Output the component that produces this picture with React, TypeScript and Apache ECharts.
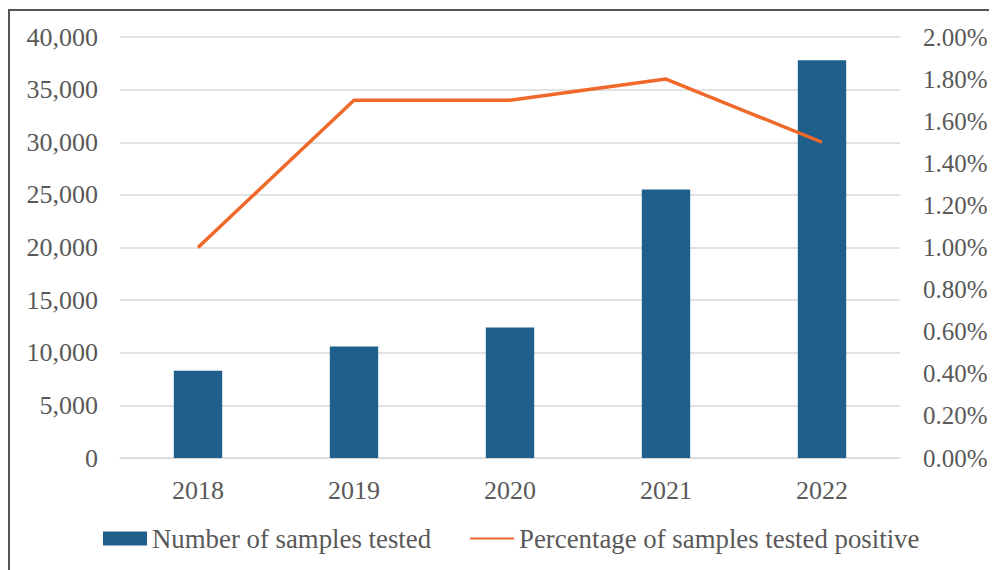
import React, { useEffect, useRef } from "react";
import * as echarts from "echarts";

const categories = ["2018", "2019", "2020", "2021", "2022"];
const samplesTested = [8300, 10600, 12400, 25500, 37800];
const positiveRate = [0.01, 0.017, 0.017, 0.018, 0.015];
const seriesNames = ["Number of samples tested", "Percentage of samples tested positive"];

const FONT = "'Liberation Serif', 'Times New Roman', serif";
const TEXT = "#595959";
const FS = 26;

export default function App() {
  const ref = useRef<HTMLDivElement>(null);
  useEffect(() => {
    if (!ref.current) return;
    const chart = echarts.init(ref.current, undefined, { renderer: "svg" });
    chart.setOption({
      animation: false,
      backgroundColor: "#ffffff",
      textStyle: { fontFamily: FONT },
      graphic: [
        { type: "line", shape: { x1: 1, y1: 2, x2: 1, y2: 600 }, style: { stroke: "#555", lineWidth: 2 } },
        { type: "line", shape: { x1: 0, y1: 2, x2: 1000, y2: 2 }, style: { stroke: "#555", lineWidth: 2 } },
      ],
      grid: { left: 112, right: 97, top: 29, bottom: 112, containLabel: false },
      legend: {
        bottom: 13,
        left: 90,
        itemWidth: 44,
        itemHeight: 14,
        itemGap: 38,
        textStyle: { fontFamily: FONT, fontSize: 26.8, color: TEXT },
        data: [
          { name: seriesNames[0], icon: "rect" },
          {
            name: seriesNames[1],
            itemStyle: { color: "transparent", borderColor: "transparent", borderWidth: 0, opacity: 0 },
          },
        ],
      },
      xAxis: {
        type: "category",
        data: categories,
        axisLine: { show: true, lineStyle: { color: "#d9d9d9", width: 1 } },
        axisTick: { show: false },
        axisLabel: { fontFamily: FONT, fontSize: FS, color: TEXT, margin: 19 },
      },
      yAxis: [
        {
          type: "value",
          min: 0,
          max: 40000,
          interval: 5000,
          axisLine: { show: false },
          axisTick: { show: false },
          splitLine: { lineStyle: { color: "#d9d9d9", width: 1.5 } },
          axisLabel: {
            fontFamily: FONT,
            fontSize: FS,
            color: TEXT,
            margin: 22,
            formatter: (v: number) => v.toLocaleString("en-US"),
          },
        },
        {
          type: "value",
          min: 0,
          max: 0.02,
          interval: 0.002,
          axisLine: { show: false },
          axisTick: { show: false },
          splitLine: { show: false },
          axisLabel: {
            fontFamily: FONT,
            fontSize: 25,
            color: TEXT,
            margin: 23,
            formatter: (v: number) => (v * 100).toFixed(2) + "%",
          },
        },
      ],
      series: [
        {
          name: seriesNames[0],
          type: "bar",
          data: samplesTested,
          barWidth: "31%",
          itemStyle: { color: "#1f5f8b" },
        },
        {
          name: seriesNames[1],
          type: "line",
          yAxisIndex: 1,
          data: positiveRate,
          symbol: "none",
          lineStyle: { color: "#f0692a", width: 3.5 },
          itemStyle: { color: "#f0692a" },
        },
      ],
    });
    return () => chart.dispose();
  }, []);
  return <div ref={ref} style={{ width: 989, height: 562 }} />;
}
